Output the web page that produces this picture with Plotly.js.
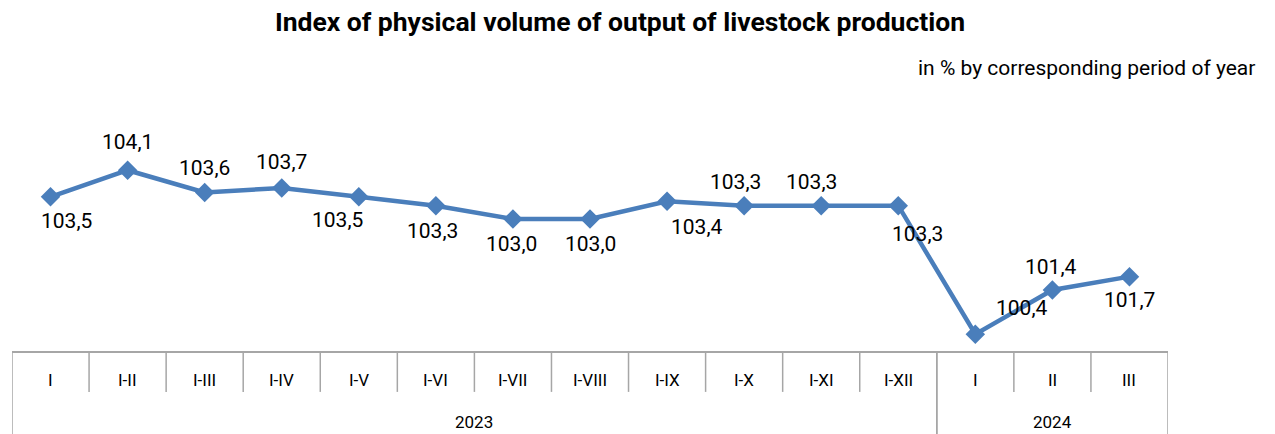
<!DOCTYPE html>
<html><head><meta charset="utf-8">
<script src="https://cdn.plot.ly/plotly-3.0.1.min.js"></script>
<style>html,body{margin:0;padding:0;background:#fff}#chart{width:1275px;height:434px}</style>
</head><body><div id="chart"></div>
<script>
const categories = ["I","I-II","I-III","I-IV","I-V","I-VI","I-VII","I-VIII","I-IX","I-X","I-XI","I-XII","I","II","III"];
const values = [103.5,104.1,103.6,103.7,103.5,103.3,103.0,103.0,103.4,103.3,103.3,103.3,100.4,101.4,101.7];
const years = ["2023","2024"];
const yearCounts = [12,3];
// label offsets in pixels (dx, dy) relative to each point
const labelOffsets = [[16,24],[0,-28],[0,-24],[0,-26],[-21,23],[-3,25],[-1,25],[0,25],[30,26],[-9,-24],[-10,-24],[19,28],[47,-26],[-1,-23],[0,23]];

const xs = categories.map((_, i) => i);
const fmt = v => v.toFixed(1).replace('.', ',');

const annotations = [];
values.forEach((v, i) => {
  annotations.push({x: i, y: v, xref: 'x', yref: 'y', text: fmt(v), showarrow: false,
    xshift: labelOffsets[i][0], yshift: -labelOffsets[i][1],
    font: {family: 'Roboto, sans-serif', size: 21, color: '#000'}});
});
categories.forEach((c, i) => {
  annotations.push({x: i, y: -0.105, xref: 'x', yref: 'paper', text: c, showarrow: false,
    yanchor: 'middle', font: {family: 'Roboto, sans-serif', size: 17, color: '#000'}});
});
const shapes = [];
const lineStyle = {color: '#a6a6a6', width: 1.5};
shapes.push({type: 'line', xref: 'x', yref: 'paper', x0: -0.5, x1: categories.length - 0.5, y0: 0, y1: 0, line: {color: '#a6a6a6', width: 2}});
let start = 0;
years.forEach((yr, k) => {
  const end = start + yearCounts[k];
  annotations.push({x: (start + end - 1) / 2, y: -0.263, xref: 'x', yref: 'paper', text: yr, showarrow: false,
    yanchor: 'middle', font: {family: 'Roboto, sans-serif', size: 17, color: '#000'}});
  for (let i = start; i <= end; i++) {
    const full = (i === start || i === end);
    shapes.push({type: 'line', xref: 'x', yref: 'paper', x0: i - 0.5, x1: i - 0.5, y0: 0,
      y1: full ? -0.32 : -0.15, line: lineStyle});
  }
  start = end;
});

const trace = {
  x: xs, y: values, type: 'scatter', mode: 'lines+markers',
  line: {color: '#4a7ebb', width: 4.5},
  marker: {symbol: 'diamond', size: 15, color: '#4a7ebb'},
  hoverinfo: 'skip', cliponaxis: false
};

annotations.push({xref: 'paper', yref: 'paper', x: 1.077, y: 1.068, xanchor: 'right', yanchor: 'middle', showarrow: false,
  text: 'in % by corresponding period of year', font: {family: 'Roboto, sans-serif', size: 21, color: '#000'}});

const layout = {
  width: 1275, height: 434,
  margin: {l: 12, r: 107, t: 86, b: 82},
  paper_bgcolor: '#fff', plot_bgcolor: '#fff',
  showlegend: false,
  title: {text: '<b>Index of physical volume of output of livestock production</b>', x: 620/1275, xref: 'container', xanchor: 'center',
    y: 1 - 22/434, yref: 'container', yanchor: 'middle', font: {family: 'Roboto, sans-serif', size: 26.5, color: '#000'}},
  xaxis: {range: [-0.5, categories.length - 0.5], showgrid: false, zeroline: false, showline: false, showticklabels: false, ticks: '', fixedrange: true},
  yaxis: {range: [100, 106], showgrid: false, zeroline: false, showline: false, showticklabels: false, ticks: '', fixedrange: true},
  annotations: annotations, shapes: shapes
};
Plotly.newPlot('chart', [trace], layout, {staticPlot: true, displayModeBar: false});
</script></body></html>
